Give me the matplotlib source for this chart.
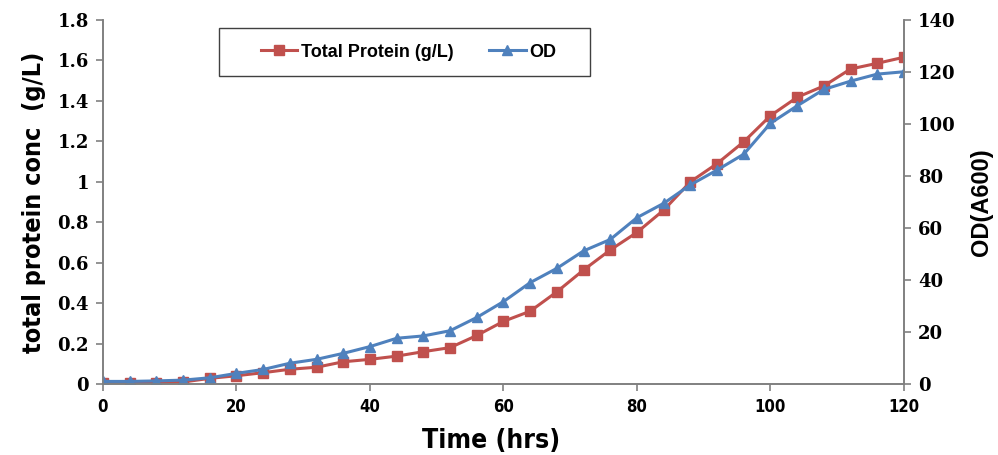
import numpy as np
import matplotlib
matplotlib.use("Agg")
import matplotlib.pyplot as plt
from matplotlib.patches import Rectangle

plt.rcParams['font.family'] = ['Liberation Sans', 'DejaVu Sans']

# sampling times (hrs)
time_hrs = [0, 4, 8, 12, 16, 20, 24, 28, 32, 36, 40, 44, 48, 52, 56, 60,
            64, 68, 72, 76, 80, 84, 88, 92, 96, 100, 104, 108, 112, 116, 120]

# total protein (g/L), left axis
protein = [0.005, 0.005, 0.005, 0.01, 0.028, 0.041, 0.056, 0.073, 0.083, 0.11,
           0.122, 0.138, 0.16, 0.18, 0.24, 0.31, 0.36, 0.456, 0.564, 0.663,
           0.75, 0.86, 1.0, 1.09, 1.198, 1.327, 1.418, 1.474, 1.558, 1.586, 1.616]

# OD (A600), right axis
od = [1.0, 1.0, 1.2, 1.5, 2.4, 4.1, 5.6, 8.0, 9.5, 11.8, 14.4, 17.6, 18.5, 20.5,
      25.6, 31.7, 39.0, 44.5, 51.2, 55.6, 64.0, 69.5, 76.6, 82.3, 88.4, 100.3,
      107.0, 113.3, 116.5, 119.2, 120.1]

red = '#C0504D'
blue = '#4F81BD'
axis_grey = '#808080'

fig = plt.figure(figsize=(9.98, 4.55), dpi=100)
ax = fig.add_axes([0.1032, 0.156, 0.8026, 0.800])
ax2 = ax.twinx()

l1, = ax.plot(time_hrs, protein, color=red, lw=2.2, marker='s', ms=6.5,
              label='Total Protein (g/L)')
l2, = ax2.plot(time_hrs, od, color=blue, lw=2.2, marker='^', ms=6.5, label='OD')

ax.set_xlim(0, 120)
ax.set_ylim(0, 1.8)
ax2.set_ylim(0, 140)
ax.set_xticks(np.arange(0, 121, 20))
ax.set_yticks(np.arange(0, 1.81, 0.2))
ax.set_yticklabels(['0', '0.2', '0.4', '0.6', '0.8', '1', '1.2', '1.4', '1.6', '1.8'])
ax2.set_yticks(np.arange(0, 141, 20))

for a in (ax, ax2):
    a.spines['top'].set_visible(False)
    for s in ('left', 'right', 'bottom'):
        a.spines[s].set_color(axis_grey)
        a.spines[s].set_linewidth(1.2)
    a.tick_params(direction='out', length=5, width=1.2, color=axis_grey, pad=5)
    for lab in a.get_yticklabels():
        lab.set_fontweight('bold')
        lab.set_fontsize(13)
        lab.set_family(['DejaVu Serif'])
for lab in ax.get_xticklabels():
    lab.set_fontweight('bold')
    lab.set_fontsize(12)
    lab.set_family(['DejaVu Sans'])
    lab.set_fontstretch('condensed')

ax.set_xlabel('Time (hrs)', fontsize=19, fontweight='bold',
              family=['DejaVu Sans'], fontstretch='condensed')
ax.xaxis.set_label_coords(0.484, -0.12)
ax.set_ylabel('total protein conc  (g/L)', fontsize=18, fontweight='bold', labelpad=8,
              family=['DejaVu Sans'], fontstretch='condensed')
ax2.set_ylabel('OD(A600)', fontsize=17, fontweight='bold', labelpad=10)

# legend frame drawn as a plain box, legend entries centred inside it
ax2.add_patch(Rectangle((0.145, 0.846), 0.463, 0.132, transform=ax2.transAxes,
                        facecolor='white', edgecolor='#404040', lw=1.0, zorder=5))
leg = ax2.legend(handles=[l1, l2], ncol=2, loc='center',
                 bbox_to_anchor=(0.145 + 0.463 / 2 + 0.005, 0.912),
                 frameon=False, prop={'weight': 'bold', 'size': 13},
                 handlelength=2.0, handletextpad=0.2, columnspacing=2.0)
leg.set_zorder(6)

fig.savefig('out.png', dpi=100)
